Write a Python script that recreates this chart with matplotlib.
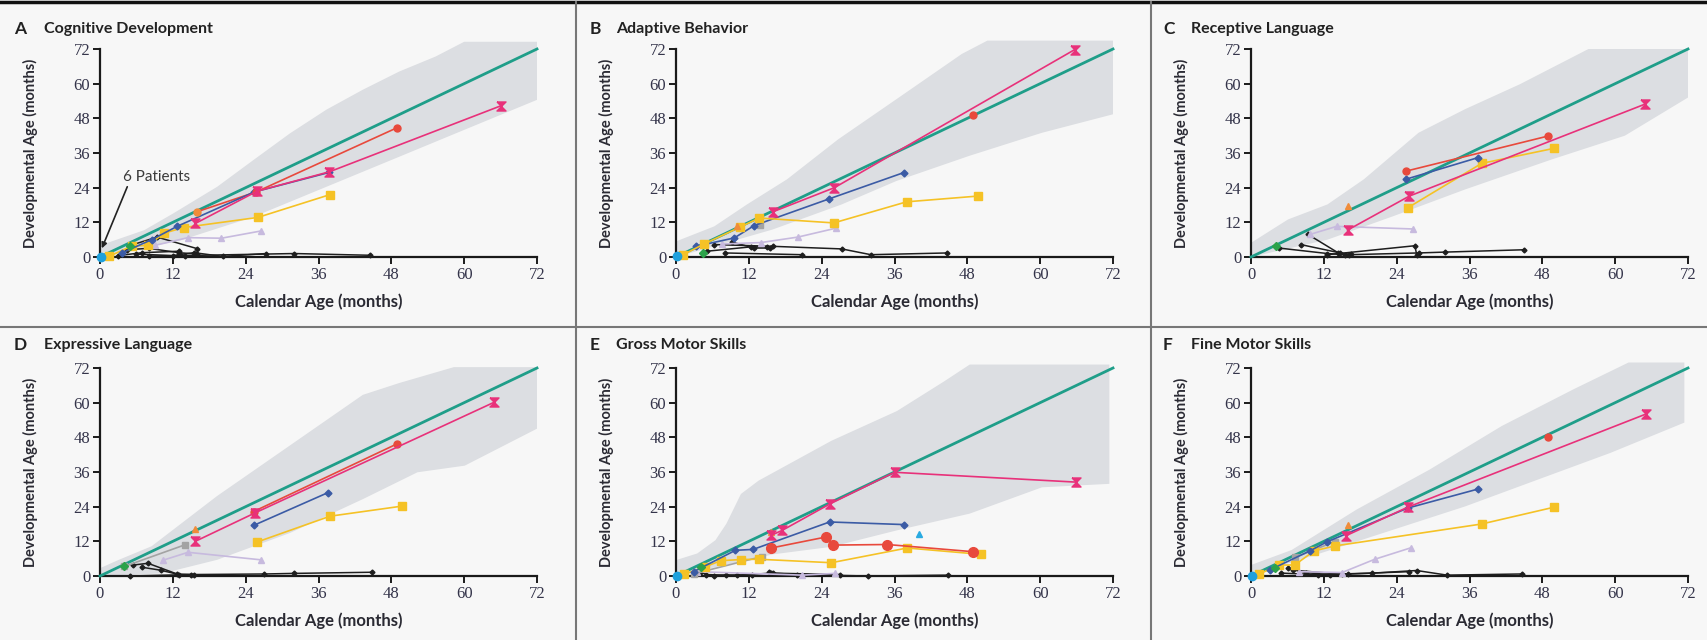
import numpy as np
import matplotlib
matplotlib.use("Agg")
import matplotlib.pyplot as plt
from matplotlib.path import Path
from matplotlib.lines import Line2D

plt.rcParams['font.family'] = ['Lato', 'DejaVu Sans']

# ---------- data (calendar age, developmental age, months) ----------
ticks = [0, 12, 24, 36, 48, 60, 72]

# A  cognitive
cog_up_x, cog_up_y = [0, 7.3, 12, 19.3, 25.3, 31.3, 37.3, 43.3, 49.3, 55.3, 60, 72], [4, 9.3, 15, 24.3, 33.6, 42.8, 51, 57.9, 64.2, 69.4, 74.5, 74.5]
cog_lo_x, cog_lo_y = [0, 13.3, 25.3, 37.3, 49.3, 60, 72], [0, 5.8, 13.9, 24.3, 34.7, 44, 54.4]
cog_pink_x, cog_pink_y = [15.7, 25.9, 37.8, 66], [11.6, 22.8, 29.5, 52.3]
cog_red_x, cog_red_y = [25.7, 49], [22.5, 44.8]
cog_org_x, cog_org_y = [15.9], [15.6]
cog_blue_x, cog_blue_y = [3.6, 8.5, 12.7, 25.4, 37.8], [1.4, 6, 10.6, 22.5, 29.3]
cog_yel_x, cog_yel_y = [1.5, 5.2, 7.9, 10.6, 13.8, 26, 37.9], [0.2, 3.8, 4, 8.3, 10.2, 13.7, 21.6]
cog_lav_x, cog_lav_y = [9, 14.5, 20, 26.5], [4, 6.7, 6.5, 9]
cog_grn_x, cog_grn_y = [5], [3.7]
cog_cyan_x, cog_cyan_y = [0.1], [0]
cog_blk_x = [[5, 9.4, 16], [4.5, 8, 13, 16], [6, 12, 15.5, 20.2, 27.4], [8, 14, 32, 44.5], [3, 7, 13]]
cog_blk_y = [[4, 6.9, 2.9], [2.5, 3, 1.5, 1], [1, 0.5, 1.5, 0.2, 1.2], [0.3, 0.5, 1.2, 0.6], [0.5, 1.5, 2]]

# B  adaptive
ada_up_x, ada_up_y = [0, 6.3, 11.7, 18.3, 26.7, 36.3, 47.1, 51.3, 72], [5.4, 10.6, 18.2, 26.9, 40.7, 54.6, 70.3, 74.9, 74.9]
ada_lo_x, ada_lo_y = [0, 6.3, 15.9, 27.3, 36.3, 48.3, 60.3, 72], [0, 3.7, 9.5, 18.2, 26.3, 35, 43, 49.4]
ada_pink_x, ada_pink_y = [15.9, 26.1, 65.7], [15.6, 24, 71.8]
ada_red_x, ada_red_y = [48.9], [49.2]
ada_blue_x, ada_blue_y = [3.3, 9.6, 12.9, 25.2, 37.5], [3.7, 6.6, 10.9, 20.1, 29.2]
ada_yel_x, ada_yel_y = [1.2, 4.6, 10.5, 13.7, 26, 38, 49.8], [0.8, 4.5, 10.3, 13.5, 11.8, 19.1, 21.1]
ada_lav_x, ada_lav_y = [7.5, 14, 20.1, 26.4], [4.5, 5, 6.9, 10]
ada_org_x, ada_org_y = [10], [10.6]
ada_gray_x, ada_gray_y = [13.8], [11]
ada_grn_x, ada_grn_y = [4.5], [1.4]
ada_cyan_x, ada_cyan_y = [0.1], [0.5]
ada_blk_x = [[6.3, 15.9, 27.3, 32.1, 44.7], [8.1, 20.7], [5.1, 12.3, 15], [9.3, 12.9, 15.5]]
ada_blk_y = [[4.3, 3.7, 2.8, 0.8, 1.4], [1.4, 0.8], [2, 3.5, 3.5], [5.1, 3.1, 3.1]]

# C  receptive language
rec_up_x, rec_up_y = [0, 6.1, 12.6, 18.6, 27.6, 35.3, 44.3, 55.6, 72], [4.9, 13, 18.2, 26.9, 43, 51.2, 59.8, 72, 72]
rec_lo_x, rec_lo_y = [0, 12.6, 23.4, 35.3, 49.6, 61.6, 72], [0, 6, 14.1, 23.4, 33.8, 42, 55.2]
rec_pink_x, rec_pink_y = [15.9, 26.1, 64.9], [9.3, 21.1, 52.9]
rec_red_x, rec_red_y = [25.5, 49], [29.7, 41.9]
rec_blue_x, rec_blue_y = [25.5, 37.4], [26.9, 34.4]
rec_yel_x, rec_yel_y = [25.8, 38, 49.9], [17, 32.4, 37.6]
rec_lav_x, rec_lav_y = [9.7, 14.1, 26.7], [7.8, 10.6, 9.7]
rec_org_x, rec_org_y = [15.9], [17.6]
rec_grn_x, rec_grn_y = [4.2], [3.9]
rec_blk_x = [[4.6, 12.6, 15.5], [8.2, 14.7, 16.5], [9.4, 14.4], [12.6, 27, 27.3], [16.2, 27.6, 32, 44.9]]
rec_blk_y = [[3.1, 1.2, 0.8], [4.3, 1.4, 0.9], [7.8, 1.4], [0.8, 3.9, 0.8], [0.8, 1.4, 1.7, 2.5]]

# D  expressive language
exp_up_x, exp_up_y = [0, 3.1, 8.5, 19.3, 31.3, 43.3, 49.3, 58.3, 72], [2.7, 5.6, 10.3, 27.7, 45.2, 62.7, 66.8, 72.3, 72.3]
exp_lo_x, exp_lo_y = [0, 10.3, 19.3, 31.3, 43.3, 52.3, 60.1, 72], [0, 0.9, 5.6, 14.9, 26.6, 35.9, 38.2, 51]
exp_pink_x, exp_pink_y = [15.7, 25.6, 64.9], [12, 21.9, 60.1]
exp_red_x, exp_red_y = [25.3, 49], [22.3, 45.8]
exp_blue_x, exp_blue_y = [25.3, 37.6], [17.5, 28.9]
exp_yel_x, exp_yel_y = [25.8, 37.9, 49.8], [11.7, 20.7, 24.2]
exp_lav_x, exp_lav_y = [10.3, 14.5, 26.5], [5.4, 8.2, 5.6]
exp_org_x, exp_org_y = [15.7], [16.1]
exp_gray_x, exp_gray_y = [4, 14], [3.3, 10.8]
exp_grn_x, exp_grn_y = [4], [3.3]
exp_blk_x = [[5.5, 7.9, 12.7, 15.5], [4.9, 15, 27.1, 31.9, 44.8], [7, 10, 13]]
exp_blk_y = [[3.8, 4.4, 0.7, 0.5], [0, 0.5, 0.7, 0.9, 1.3], [3, 2, 0.5]]

# E  gross motor
gro_up_x, gro_up_y = [0, 3.5, 6.5, 8.3, 10.7, 13.6, 19.6, 25.6, 36.4, 44.2, 48.4, 71.4], [5.5, 7.8, 12.4, 18.1, 28.4, 33, 39.9, 46.8, 57.1, 67.4, 73.2, 73.2]
gro_lo_x, gro_lo_y = [0, 16, 25.6, 36.4, 48.4, 60.3, 71.4], [0, 7.5, 10.1, 15.8, 21.6, 30.7, 31.9]
gro_pink_x, gro_pink_y = [15.7, 17.5, 25.4, 36, 65.9], [14.1, 15.8, 25, 35.9, 32.5]
gro_red_x, gro_red_y = [15.7, 24.7, 25.9, 34.8, 49], [9.7, 13.5, 10.7, 10.9, 8.4]
gro_blue_x, gro_blue_y = [2.9, 9.8, 12.7, 25.3, 37.6], [1.5, 8.9, 9.2, 18.7, 17.8]
gro_yel_x, gro_yel_y = [1.4, 4.8, 7.4, 10.7, 13.6, 25.6, 38.1, 50.2], [0.6, 3.2, 5.3, 5.7, 5.8, 4.6, 9.7, 7.5]
gro_lav_x, gro_lav_y = [3.5, 20.8, 26.2], [1.5, 0.3, 0.9]
gro_org_x, gro_org_y = [15.7], [15.3]
gro_gray_x, gro_gray_y = [3, 14.1], [0.8, 6.7]
gro_grn_x, gro_grn_y = [4.2], [3]
gro_cyan_x, gro_cyan_y = [0.2], [0]
gro_ltb_x, gro_ltb_y = [40], [14.4]
gro_blk_x = [[4, 6.2, 8.2, 12.5], [15.4, 16, 20, 31.6, 44.8], [5, 10, 15.6, 27]]
gro_blk_y = [[1.2, 0, 0.3, 0.4], [1.5, 1, 0.5, 0, 0.3], [0.5, 0.2, 1, 0.5]]

# F  fine motor
fin_up_x, fin_up_y = [0, 6.7, 17.4, 29.4, 41.3, 53.2, 62.2, 71.4], [3.8, 9, 23, 36.8, 51.9, 64.7, 73.9, 73.9]
fin_lo_x, fin_lo_y = [0, 11.5, 23.4, 35.3, 47.3, 59.2, 71.4], [0.3, 7.9, 16, 24.1, 33.4, 42.6, 53.1]
fin_pink_x, fin_pink_y = [15.6, 25.8, 65], [13.9, 23.8, 56]
fin_red_x, fin_red_y = [48.9], [48.2]
fin_blue_x, fin_blue_y = [3.1, 9.7, 12.6, 25.8, 37.4], [2.1, 8.7, 11.9, 23.5, 30.1]
fin_yel_x, fin_yel_y = [1.3, 4.6, 7.2, 10.4, 13.8, 38, 49.9], [0.6, 3.8, 3.8, 8.7, 10.4, 18, 23.8]
fin_lav_x, fin_lav_y = [7.9, 15, 20.4, 26.4], [1.5, 1.2, 5.8, 9.8]
fin_org_x, fin_org_y = [15.9], [17.7]
fin_gray_x, fin_gray_y = [7.3, 13.8], [6.5, 11.9]
fin_grn_x, fin_grn_y = [4], [2.7]
fin_cyan_x, fin_cyan_y = [0.2], [0]
fin_blk_x = [[6.1, 9, 13, 16], [5, 11, 20, 27.3, 32.3, 44.6], [7, 15, 26]]
fin_blk_y = [[2.7, 1.2, 0.4, 0.8], [1, 0.5, 1, 1.9, 0.3, 0.7], [2, 0.6, 1.5]]

# ---------- styles ----------
hourglass = Path([(-1, 1), (1, 1), (-1, -1), (1, -1), (-1, 1)])
styles = {
    'lav':  dict(color='#c7bade', marker='^', ms=4),
    'gray': dict(color='#a3a3a3', marker='s', ms=4),
    'grn':  dict(color='#2ca24a', marker='D', ms=4),
    'yel':  dict(color='#f5c226', marker='s', ms=5.5),
    'blue': dict(color='#3b5ba5', marker='D', ms=3.5),
    'red':  dict(color='#e8493c', marker='o', ms=5),
    'org':  dict(color='#f08c3a', marker='^', ms=5),
    'pink': dict(color='#e8317a', marker=hourglass, ms=6.5),
    'cyan': dict(color='#1ea0dc', marker='o', ms=6),
    'ltb':  dict(color='#29aae1', marker='^', ms=5),
}
band_col = '#dcdee2'
teal = '#1f9e89'
bg = '#f7f7f7'
tick_col = '#34344a'

panels = [
    ('A', 'Cognitive Development', (cog_up_x, cog_up_y, cog_lo_x, cog_lo_y), (cog_blk_x, cog_blk_y),
     {'lav': (cog_lav_x, cog_lav_y), 'yel': (cog_yel_x, cog_yel_y), 'blue': (cog_blue_x, cog_blue_y),
      'red': (cog_red_x, cog_red_y), 'pink': (cog_pink_x, cog_pink_y), 'grn': (cog_grn_x, cog_grn_y),
      'cyan': (cog_cyan_x, cog_cyan_y)}),
    ('B', 'Adaptive Behavior', (ada_up_x, ada_up_y, ada_lo_x, ada_lo_y), (ada_blk_x, ada_blk_y),
     {'lav': (ada_lav_x, ada_lav_y), 'gray': (ada_gray_x, ada_gray_y), 'blue': (ada_blue_x, ada_blue_y),
      'yel': (ada_yel_x, ada_yel_y), 'org': (ada_org_x, ada_org_y), 'red': (ada_red_x, ada_red_y),
      'pink': (ada_pink_x, ada_pink_y), 'grn': (ada_grn_x, ada_grn_y), 'cyan': (ada_cyan_x, ada_cyan_y)}),
    ('C', 'Receptive Language', (rec_up_x, rec_up_y, rec_lo_x, rec_lo_y), (rec_blk_x, rec_blk_y),
     {'lav': (rec_lav_x, rec_lav_y), 'yel': (rec_yel_x, rec_yel_y), 'blue': (rec_blue_x, rec_blue_y),
      'red': (rec_red_x, rec_red_y), 'pink': (rec_pink_x, rec_pink_y), 'org': (rec_org_x, rec_org_y),
      'grn': (rec_grn_x, rec_grn_y)}),
    ('D', 'Expressive Language', (exp_up_x, exp_up_y, exp_lo_x, exp_lo_y), (exp_blk_x, exp_blk_y),
     {'lav': (exp_lav_x, exp_lav_y), 'gray': (exp_gray_x, exp_gray_y), 'yel': (exp_yel_x, exp_yel_y),
      'blue': (exp_blue_x, exp_blue_y), 'red': (exp_red_x, exp_red_y), 'pink': (exp_pink_x, exp_pink_y),
      'org': (exp_org_x, exp_org_y), 'grn': (exp_grn_x, exp_grn_y)}),
    ('E', 'Gross Motor Skills', (gro_up_x, gro_up_y, gro_lo_x, gro_lo_y), (gro_blk_x, gro_blk_y),
     {'lav': (gro_lav_x, gro_lav_y), 'gray': (gro_gray_x, gro_gray_y), 'yel': (gro_yel_x, gro_yel_y),
      'blue': (gro_blue_x, gro_blue_y), 'red': (gro_red_x, gro_red_y), 'org': (gro_org_x, gro_org_y),
      'pink': (gro_pink_x, gro_pink_y), 'grn': (gro_grn_x, gro_grn_y), 'ltb': (gro_ltb_x, gro_ltb_y),
      'cyan': (gro_cyan_x, gro_cyan_y)}),
    ('F', 'Fine Motor Skills', (fin_up_x, fin_up_y, fin_lo_x, fin_lo_y), (fin_blk_x, fin_blk_y),
     {'lav': (fin_lav_x, fin_lav_y), 'gray': (fin_gray_x, fin_gray_y), 'yel': (fin_yel_x, fin_yel_y),
      'blue': (fin_blue_x, fin_blue_y), 'red': (fin_red_x, fin_red_y), 'org': (fin_org_x, fin_org_y),
      'pink': (fin_pink_x, fin_pink_y), 'grn': (fin_grn_x, fin_grn_y), 'cyan': (fin_cyan_x, fin_cyan_y)}),
]
# the orange dot on panel A sits at the start of the red line
panels[0][4]['org'] = (cog_org_x, cog_org_y)

W, H = 1707, 640
fig = plt.figure(figsize=(W / 100, H / 100), dpi=100, facecolor=bg)

lefts = [100, 676, 1251]
bottoms = [257, 576]
aw, ah = 437, 208
letter_x = [14, 590, 1163]
name_x = [44, 616, 1191]
title_y = [29, 345]

for i, (letter, name, band, blk, series) in enumerate(panels):
    col, row = i % 3, i // 3
    ax = fig.add_axes([lefts[col] / W, (H - bottoms[row]) / H, aw / W, ah / H])
    ax.set_facecolor('none')
    ux, uy, lx, ly = band
    ax.fill(np.r_[ux, lx[::-1]], np.r_[uy, ly[::-1]], color=band_col, lw=0, zorder=1, clip_on=False)
    ax.plot([0, 72], [0, 72], color=teal, lw=2, zorder=3, clip_on=False)
    for bx, by in zip(*blk):
        ax.plot(bx, by, color='#1e1e1e', lw=1.1, marker='D', ms=2.5, zorder=4, clip_on=False)
    if letter == 'A':
        # faint link from the orange dot to the red series
        ax.plot([cog_org_x[0], cog_red_x[0]], [cog_org_y[0], cog_red_y[0]], color='#e8493c', lw=1.2, zorder=5)
    for key, (sx, sy) in series.items():
        st = styles[key]
        mk = 'o' if (letter == 'A' and key == 'org') else st['marker']
        ms = 7 if (letter == 'E' and key == 'red') else st['ms']
        ax.plot(sx, sy, color=st['color'], lw=1.2, marker=mk, ms=ms,
                mec=st['color'], zorder=5, clip_on=False)

    ax.set_xlim(0, 72)
    ax.set_ylim(0, 72)
    ax.set_xticks(ticks)
    ax.set_yticks(ticks)
    for s in ['top', 'right']:
        ax.spines[s].set_visible(False)
    for s in ['left', 'bottom']:
        ax.spines[s].set_linewidth(1.6)
        ax.spines[s].set_color('#1a1a1a')
    ax.tick_params(direction='out', length=5, width=1.4, color='#1a1a1a', labelcolor=tick_col,
                   labelsize=12, pad=2, labelfontfamily='Liberation Serif')
    ax.set_xlabel('Calendar Age (months)', fontsize=12, fontweight='bold', color='#2a2a33', labelpad=8)
    ax.set_ylabel('Developmental Age (months)', fontsize=10.5, fontweight='bold', color='#2a2a33')
    ax.yaxis.set_label_coords(-0.142, 0.5)

    fig.text(letter_x[col] / W, 1 - title_y[row] / H, letter, fontsize=12.5, fontweight='bold',
             color='#222', va='center')
    fig.text(name_x[col] / W, 1 - title_y[row] / H, name, fontsize=11.5, fontweight='bold',
             color='#222', va='center')

    if letter == 'A':
        ax.annotate('6 Patients', xy=(0.3, 3), xytext=(3.8, 27.7), fontsize=11, color='#3a3a3a',
                    va='center', ha='left',
                    arrowprops=dict(arrowstyle='-|>', color='#222', lw=1.2, shrinkA=0, shrinkB=0,
                                    mutation_scale=8, relpos=(0.08, 0)), zorder=6)

# panel separators
fig.add_artist(Line2D([0, 1], [1 - 2 / H, 1 - 2 / H], color='#111', lw=2.5))
fig.add_artist(Line2D([0, 1], [1 - 327 / H, 1 - 327 / H], color='#777', lw=1.5))
for xs in [576, 1151]:
    fig.add_artist(Line2D([xs / W, xs / W], [0, 1 - 2 / H], color='#777', lw=1.5))

fig.savefig('out.png', dpi=100, facecolor=bg)
